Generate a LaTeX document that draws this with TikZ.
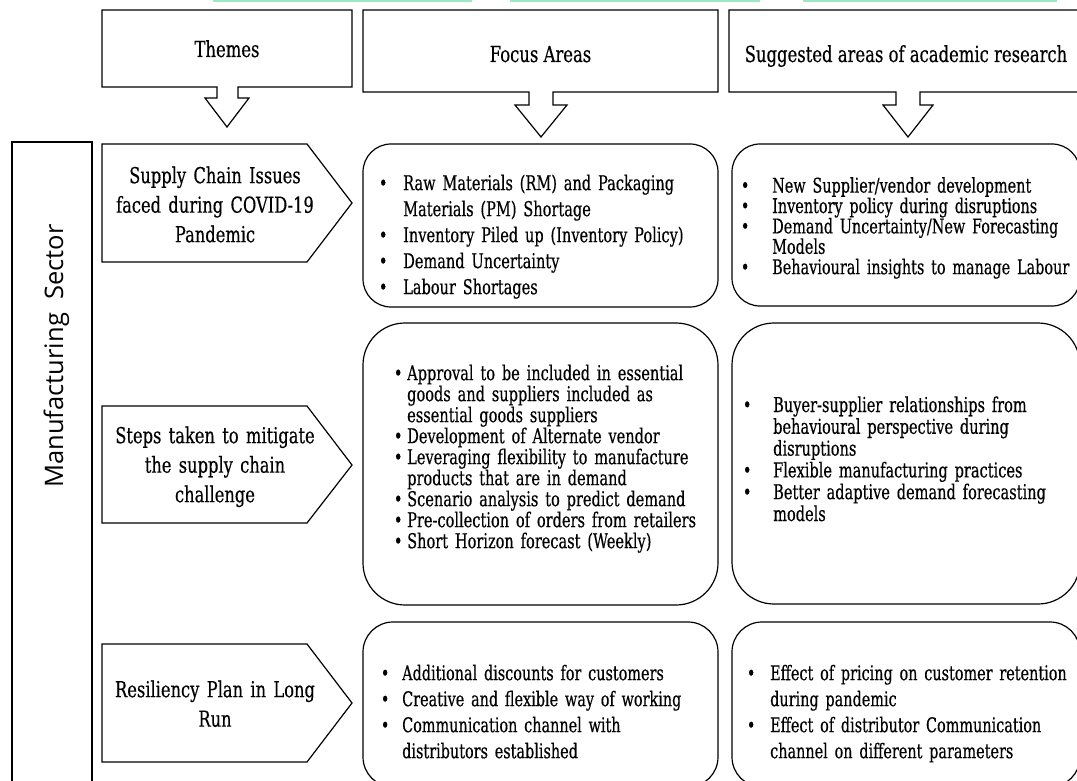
\documentclass[tikz,border=0pt]{standalone}
\usepackage{fontspec}
\setmainfont{DejaVu Serif}[FakeStretch=0.74,FakeBold=0.35]
\newfontfamily\listfont{DejaVu Serif}[FakeStretch=0.71,FakeBold=0.35]
\newfontfamily\secfont{Open Sans}
\definecolor{mint}{RGB}{155,232,195}
\newlength\bulind
\newcommand\itm{\par\noindent\hangindent=\bulind\hangafter=1\makebox[\bulind][l]{\textbullet}}
\newcommand\fr{\rule{0pt}{18pt}}
\newcommand\tr{\rule{0pt}{20pt}}
\tikzset{
  frame/.style={draw=black, line width=1.2pt, fill=white, line join=miter},
  rbox/.style={draw=black, line width=1.2pt, fill=white},
  hdrtext/.style={inner sep=0pt, anchor=base, font=\fontsize{22.2}{26}\selectfont},
  themetext/.style={inner sep=0pt, anchor=north, text width=230pt, align=center, font=\fontsize{22}{29.5}\selectfont},
  listtext/.style={inner sep=0pt, anchor=north west, text width=340pt, align=left},
}
\begin{document}
\begin{tikzpicture}[x=1pt,y=-1pt]
\useasboundingbox (0,0) rectangle (1077,781);
\fill[white] (0,0) rectangle (1077,781);
\clip (0,0) rectangle (1077,781);
% green strips at the top edge
\fill[mint] (213,0) rectangle (472,1.8);
\fill[mint] (510,0) rectangle (760,1.8);
\fill[mint] (803,0) rectangle (1057,1.8);
% header callouts
\draw[frame] (102,10) -- (352,10) -- (352,87) -- (238,87) -- (238,98) -- (249,98) -- (227,127) -- (205,98) -- (217,98) -- (217,87) -- (102,87) -- cycle;
\draw[frame] (363,10) -- (718,10) -- (718,92) -- (553,92) -- (553,105) -- (567,105) -- (541,137) -- (515,105) -- (529,105) -- (529,92) -- (363,92) -- cycle;
\draw[frame] (729,10) -- (1085,10) -- (1085,92) -- (920,92) -- (920,105) -- (933,105) -- (908,137) -- (883,105) -- (896,105) -- (896,92) -- (729,92) -- cycle;
\node[hdrtext] (hthemes) at (227,57) {Themes};
\node[hdrtext] (hfocus) at (540.5,62) {Focus Areas};
\node[hdrtext] (hresearch) at (906,62) {Suggested areas of academic research};
% sector box
\draw[frame] (12,142) rectangle (92,800);
\node[rotate=90, anchor=base, inner sep=0pt, font=\secfont\fontsize{25.5}{30}\selectfont] (sector) at (63,356) {Manufacturing\ \ Sector};
% theme pentagons
\draw[frame] (102,144) -- (307,144) -- (352,203) -- (307,262) -- (102,262) -- cycle;
\draw[frame] (102,406) -- (307,406) -- (352,465) -- (307,523) -- (102,523) -- cycle;
\draw[frame] (102,644) -- (307,644) -- (352,703) -- (307,762) -- (102,762) -- cycle;
\node[themetext] (t1) at (215,163) {\tr Supply Chain Issues\\faced during COVID-19\\Pandemic};
\node[themetext] (t2) at (215,423) {\tr Steps taken to mitigate\\the supply chain\\challenge};
\node[themetext] (t3) at (215,677) {\tr Resiliency Plan in Long\\Run};
% rounded boxes
\draw[rbox, rounded corners=28pt] (363,144) rectangle (718,307);
\draw[rbox, rounded corners=28pt] (732,144) rectangle (1080,306);
\draw[rbox, rounded corners=42pt] (363,323) rectangle (718,605);
\draw[rbox, rounded corners=42pt] (732,323) rectangle (1080,604);
\draw[rbox, rounded corners=30pt] (363,622) rectangle (718,787);
\draw[rbox, rounded corners=30pt] (732,622) rectangle (1080,787);
% lists
\node[listtext, font=\listfont\fontsize{20.5}{26}\selectfont] (f1) at (378.7,164) {\setlength\bulind{24.3pt}%
\itm\fr Raw Materials (RM) and Packaging\newline Materials (PM) Shortage
\itm Inventory Piled up (Inventory Policy)
\itm Demand Uncertainty
\itm Labour Shortages\par};
\node[listtext, font=\listfont\fontsize{20.3}{20.4}\selectfont] (r1) at (740.7,172) {\setlength\bulind{31.3pt}%
\itm\fr New Supplier/vendor development
\itm Inventory policy during disruptions
\itm Demand Uncertainty/New Forecasting\newline Models
\itm Behavioural insights to manage Labour\par};
\node[listtext, font=\listfont\fontsize{20.5}{21}\selectfont] (f2) at (393.7,359) {\setlength\bulind{13.3pt}%
\itm\fr Approval to be included in essential\newline goods and suppliers included as\newline essential goods suppliers
\itm Development of Alternate vendor
\itm Leveraging flexibility to manufacture\newline products that are in demand
\itm Scenario analysis to predict demand
\itm Pre-collection of orders from retailers
\itm Short Horizon forecast (Weekly)\par};
\node[listtext, font=\listfont\fontsize{20.5}{21.8}\selectfont] (r2) at (742.7,390) {\setlength\bulind{30.3pt}%
\itm\fr Buyer-supplier relationships from\newline behavioural perspective during\newline disruptions
\itm Flexible manufacturing practices
\itm Better adaptive demand forecasting\newline models\par};
\node[listtext, font=\listfont\fontsize{20.3}{26}\selectfont] (f3) at (380.7,654) {\setlength\bulind{21.3pt}%
\itm\fr Additional discounts for customers
\itm Creative and flexible way of working
\itm Communication channel with\newline distributors established\par};
\node[listtext, font=\listfont\fontsize{20.3}{26}\selectfont] (r3) at (746.7,654) {\setlength\bulind{23.3pt}%
\itm\fr Effect of pricing on customer retention\newline during pandemic
\itm Effect of distributor Communication\newline channel on different parameters\par};
\end{tikzpicture}
\end{document}
